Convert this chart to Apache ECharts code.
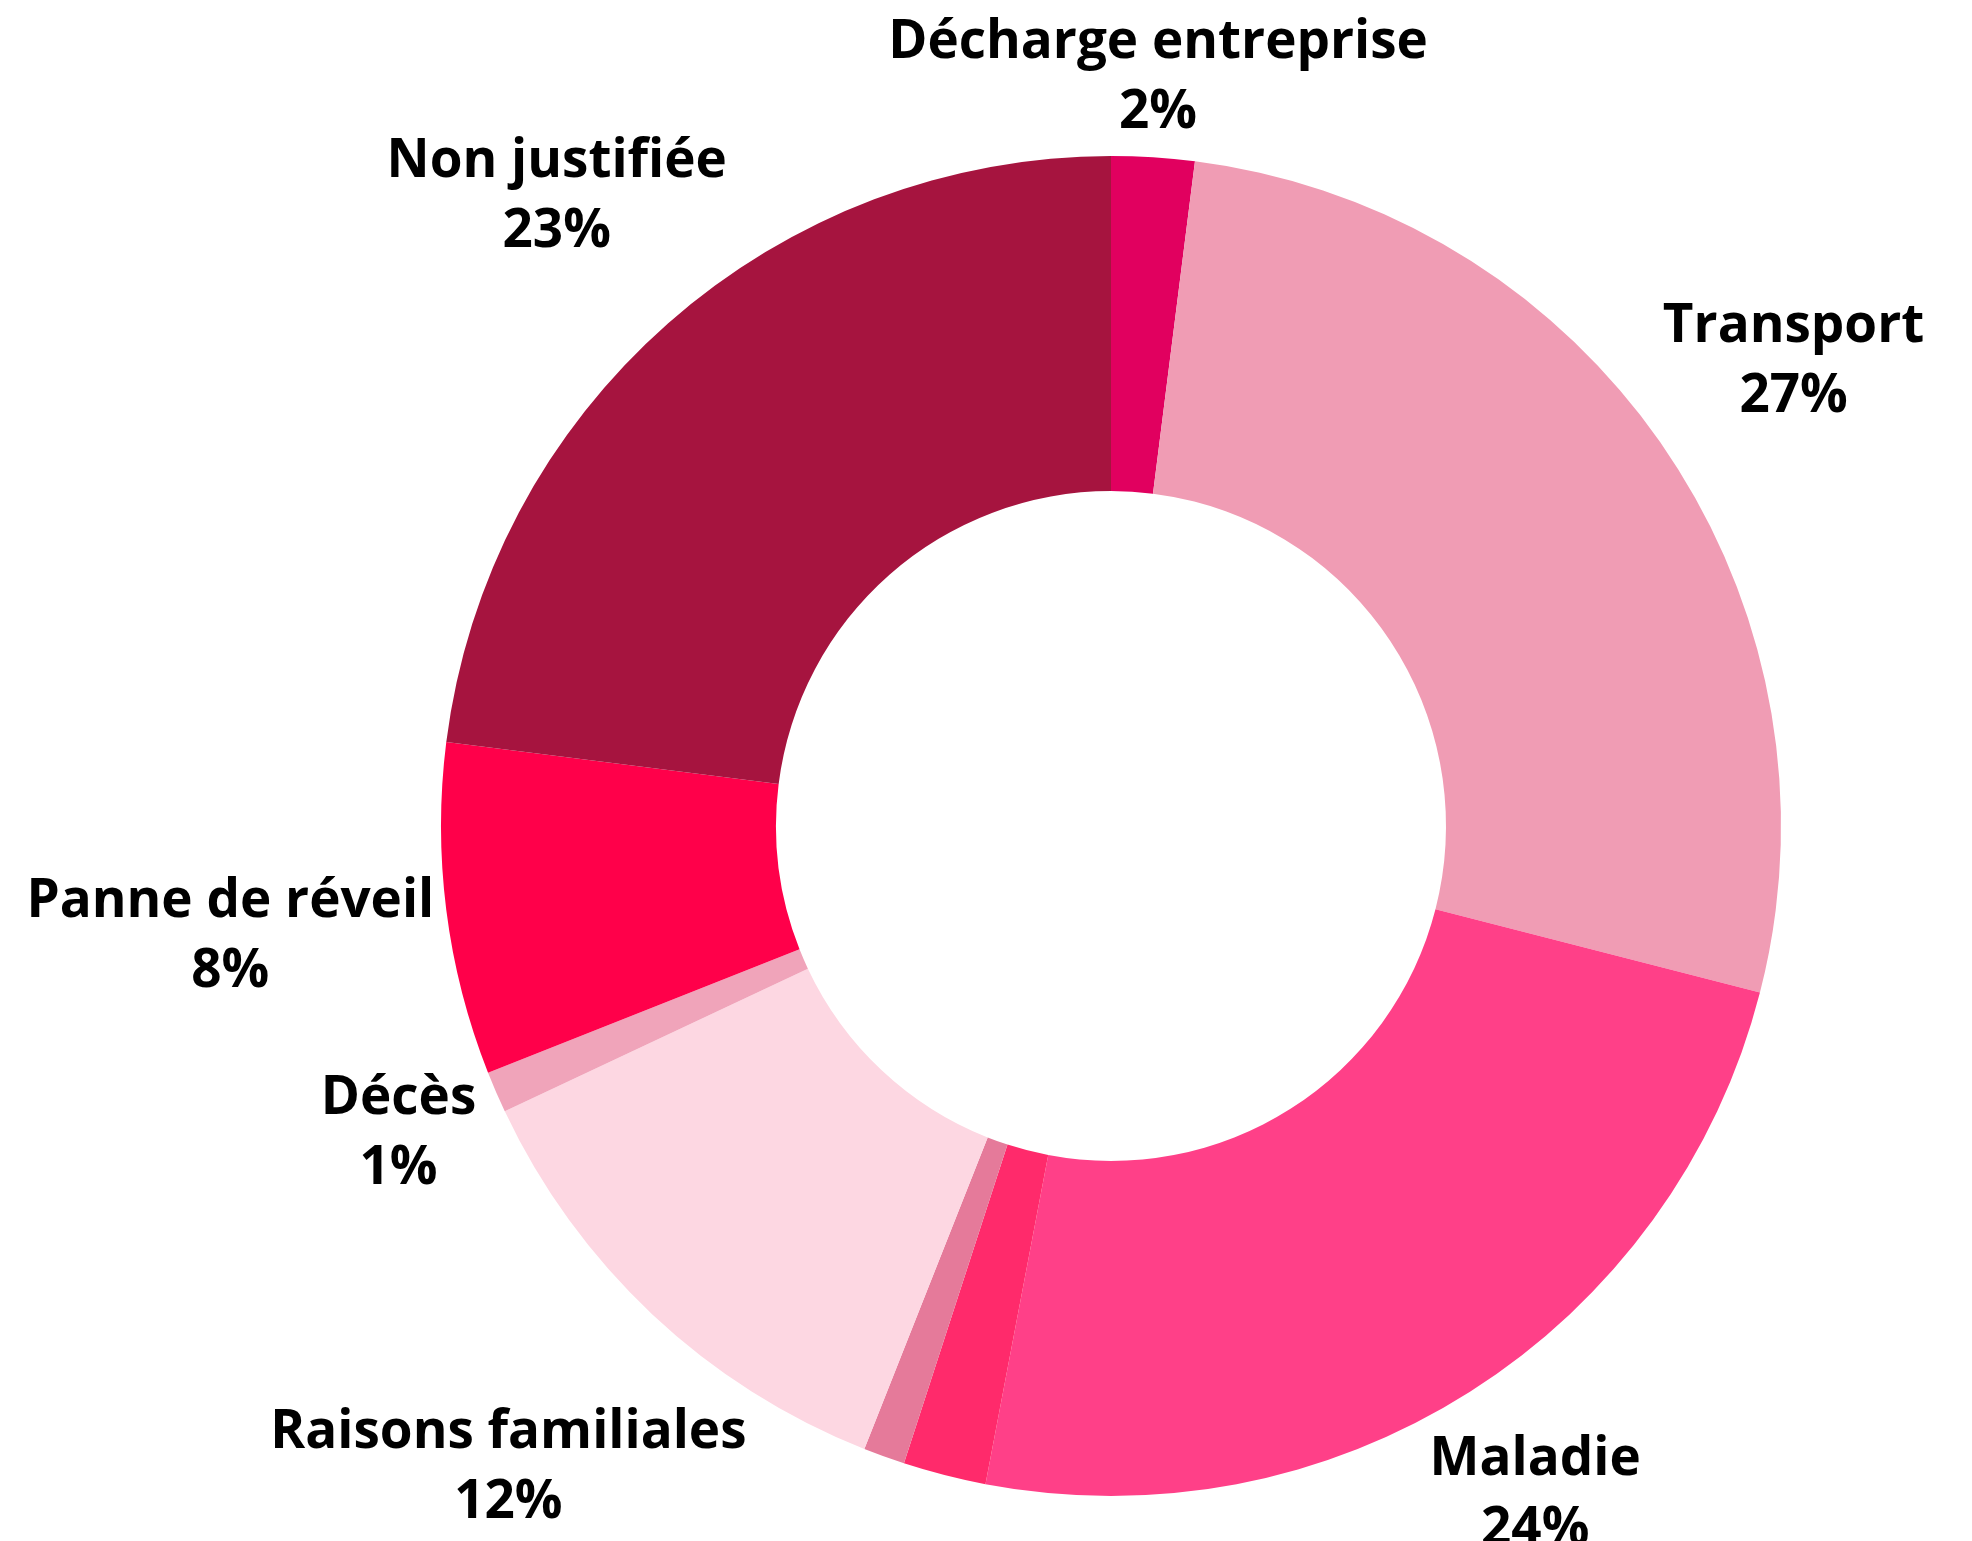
<!DOCTYPE html>
<html>
<head>
    <meta charset="UTF-8">
    <title>Absences</title>
    <script src="https://cdn.jsdelivr.net/npm/echarts@6/dist/echarts.min.js"></script>
    <style>
        html, body { margin: 0; padding: 0; background: #fff; }
    </style>
</head>
<body>
<div id="main" style="width: 1972px;height:1541px;"></div>

<script type="text/javascript">

// motifs d'absence, dans l'ordre horaire depuis le haut
var categories = ['Décharge entreprise', 'Transport', 'Maladie', '', '', 'Raisons familiales', 'Décès', 'Panne de réveil', 'Non justifiée'];
var values     = [2, 27, 24, 2, 1, 12, 1, 8, 23];
var colors     = ['#E1005F', '#F09CB4', '#FF4088', '#FF2A6B', '#E57A9A', '#FDD7E2', '#F0A4BA', '#FF004A', '#A6143F'];

var cx = 1111, cy = 826, rOut = 670, rIn = 335;
var labelDist = 678;   // distance du bord le plus proche de l'étiquette au centre

var total = values.reduce(function (a, b) { return a + b; }, 0);

// angle médian de chaque part (radians, sens horaire depuis le haut)
var midAngles = [];
var acc = 0;
for (var i = 0; i < values.length; i++) {
    midAngles.push((acc + values[i] / 2) / total * 2 * Math.PI);
    acc += values[i];
}

function nearestDist(px, py, hw, hh) {
    var nx = Math.max(px - hw, Math.min(0, px + hw));
    var ny = Math.max(py - hh, Math.min(0, py + hh));
    return Math.sqrt(nx * nx + ny * ny);
}

var data = categories.map(function (name, i) {
    var item = { name: name, value: values[i], itemStyle: { color: colors[i] } };
    if (name === '') item.label = { show: false };
    return item;
});

var myChart = echarts.init(document.getElementById('main'));

var option = {
    animation: false,
    series: [{
        type: 'pie',
        center: [cx, cy],
        radius: [rIn, rOut],
        startAngle: 90,
        clockwise: true,
        avoidLabelOverlap: false,
        percentPrecision: 0,
        label: {
            show: true,
            position: 'outside',
            formatter: '{b}\n{d}%',
            fontFamily: 'Open Sans',
            fontWeight: 'bold',
            fontSize: 53,
            lineHeight: 70,
            color: '#000',
            align: 'center'
        },
        labelLine: { show: false },
        labelLayout: function (params) {
            var a = midAngles[params.dataIndex];
            var ux = Math.sin(a), uy = -Math.cos(a);
            var hw = params.labelRect.width / 2, hh = params.labelRect.height / 2;
            var lo = 0, hi = 2000;
            for (var k = 0; k < 60; k++) {
                var mid = (lo + hi) / 2;
                if (nearestDist(mid * ux, mid * uy, hw, hh) < labelDist) lo = mid; else hi = mid;
            }
            return {
                x: cx + lo * ux,
                y: cy + lo * uy,
                align: 'center',
                verticalAlign: 'middle'
            };
        },
        data: data
    }]
};

myChart.setOption(option);

</script>
</body>
</html>
